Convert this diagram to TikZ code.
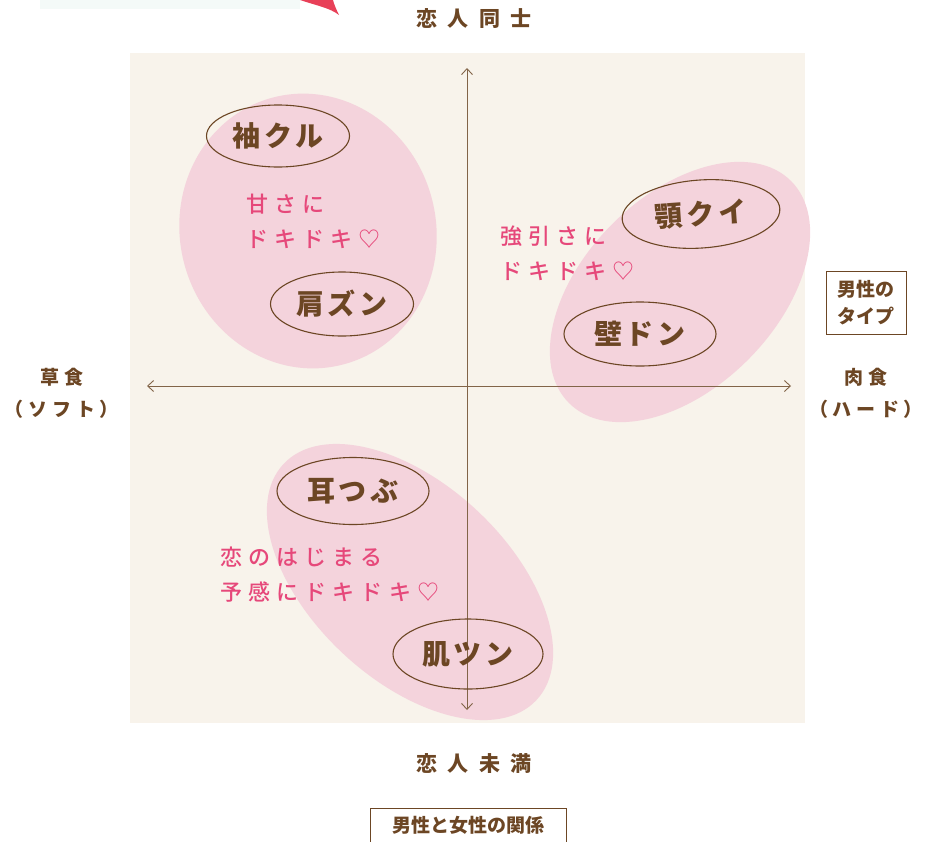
\documentclass[tikz,border=0pt]{standalone}
\usepackage{fontspec}
\usetikzlibrary{shapes.geometric,arrows.meta}
\newfontfamily\jp{Noto Sans CJK JP}
\newfontfamily\jpm{Noto Sans CJK JP Medium}
\definecolor{panelbg}{RGB}{248,243,235}
\definecolor{blobpink}{RGB}{244,211,220}
\definecolor{brownA}{RGB}{108,70,36}
\definecolor{axisc}{RGB}{130,100,72}
\definecolor{pinkT}{RGB}{230,72,122}
\definecolor{redtip}{RGB}{232,64,88}
\definecolor{paleband}{RGB}{244,250,248}
\tikzset{
  blob/.style={ellipse, fill=blobpink, draw=none, inner sep=0pt},
  tag/.style={ellipse, draw=brownA, line width=1.1pt, inner sep=0pt, text=brownA,
    font=\jp\bfseries\fontsize{28}{30}\selectfont\addfontfeatures{LetterSpace=14}},
  pinktxt/.style={anchor=west, inner sep=0pt, align=left, text=pinkT,
    font=\jpm\fontsize{22}{35}\selectfont\addfontfeatures{LetterSpace=28}},
  axlbl/.style={inner sep=0pt, align=center, text=brownA,
    font=\jp\bfseries\fontsize{21}{32}\selectfont\addfontfeatures{LetterSpace=50}},
  sidelbl/.style={inner sep=0pt, align=center, text=brownA,
    font=\jp\bfseries\fontsize{19}{32}\selectfont\addfontfeatures{LetterSpace=25}},
  boxlbl/.style={draw=brownA, line width=1pt, text=brownA, align=center,
    font=\jp\bfseries\fontsize{19}{27}\selectfont},
  axis/.style={draw=axisc, line width=0.9pt, {Straight Barb[length=6pt,width=11pt]}-{Straight Barb[length=6pt,width=11pt]}}
}
\begin{document}
\begin{tikzpicture}[x=1pt,y=-1pt]
\useasboundingbox (0,0) rectangle (925,841);
% top fragments
\fill[paleband] (40,0) rectangle (300,9);
\fill[redtip] (300,0) .. controls (318,6) and (330,8) .. (339,15) .. controls (336,9) and (334,4) .. (333,0) -- cycle;
% panel
\fill[panelbg] (130,53) rectangle (805,723);
% blobs
\node[blob, minimum width=256pt, minimum height=276pt, rotate=15] (b1) at (308,231) {};
\node[blob, minimum width=314pt, minimum height=192pt, rotate=45] (b2) at (680,292) {};
\node[blob, minimum width=346pt, minimum height=196pt, rotate=-43] (b3) at (410,582) {};
% axes
\coordinate (top) at (467,68);
\coordinate (bot) at (467,710);
\coordinate (lft) at (147,386);
\coordinate (rgt) at (791,386);
\draw[axis] (bot) -- (top);
\draw[axis] (lft) -- (rgt);
% tags
\node[tag, minimum width=143pt, minimum height=62pt] (sode) at (278,136) {袖クル};
\node[tag, minimum width=143pt, minimum height=64pt] (kata) at (342,304) {肩ズン};
\node[tag, minimum width=158pt, minimum height=68pt, rotate=4] (ago) at (701,214) {顎クイ};
\node[tag, minimum width=152pt, minimum height=64pt] (kabe) at (640,334) {壁ドン};
\node[tag, minimum width=152pt, minimum height=67pt] (mimi) at (353,491) {耳つぶ};
\node[tag, minimum width=150pt, minimum height=70pt] (hada) at (468,654) {肌ツン};
% pink texts
\node[pinktxt] (t1) at (246,221) {甘さに\\ドキドキ♡};
\node[pinktxt] (t2) at (500,253) {強引さに\\ドキドキ♡};
\node[pinktxt] (t3) at (220,575) {恋のはじまる\\予感にドキドキ♡};
% axis labels
\node[axlbl] (up) at (474,19) {恋人同士};
\node[axlbl] (down) at (474,763) {恋人未満};
\node[sidelbl] (soft) at (62,393) {草食\\（ソフト）};
\node[sidelbl] (hard) at (866,393) {肉食\\（ハード）};
\node[boxlbl, minimum width=80pt, minimum height=63pt, inner sep=2pt] (mtype) at (866,303) {男性の\\タイプ};
\node[boxlbl, minimum width=196pt, minimum height=34pt, inner sep=2pt] (rel) at (468,825) {男性と女性の関係};
\end{tikzpicture}
\end{document}
